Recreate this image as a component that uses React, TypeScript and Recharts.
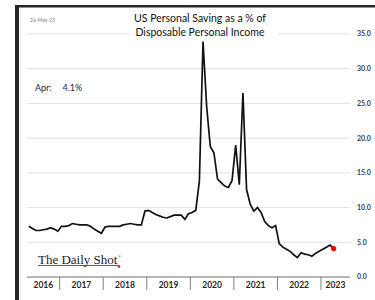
import React from "react";
import { LineChart, Line, XAxis, YAxis, CartesianGrid } from "recharts";

// months are counted from Jan 2016 = 0, first reading is Apr 2016
const firstMonth = 3;

const rate2016 = [7.3, 7.0, 6.7, 6.7, 6.8, 6.9, 7.1, 6.9, 6.6];
const rate2017 = [7.3, 7.3, 7.4, 7.7, 7.6, 7.5, 7.5, 7.5, 7.3, 6.9, 6.6, 6.3];
const rate2018 = [7.2, 7.3, 7.3, 7.3, 7.3, 7.5, 7.6, 7.7, 7.6, 7.5, 7.5, 9.5];
const rate2019 = [9.6, 9.3, 9.0, 8.8, 8.6, 8.5, 8.7, 8.9, 8.9, 8.9, 8.3, 9.1];
const rate2020 = [9.3, 9.6, 13.8, 33.9, 24.6, 18.8, 17.9, 14.1, 13.6, 13.1, 12.9, 13.9];
const rate2021 = [19.0, 13.3, 26.5, 12.6, 10.5, 9.5, 10.0, 9.3, 8.0, 7.4, 7.1, 7.4];
const rate2022 = [4.8, 4.3, 4.0, 3.7, 3.2, 2.8, 3.5, 3.3, 3.2, 3.0, 3.4, 3.7];
const rate2023 = [4.0, 4.3, 4.6, 4.1];

const savingRate = [
  ...rate2016,
  ...rate2017,
  ...rate2018,
  ...rate2019,
  ...rate2020,
  ...rate2021,
  ...rate2022,
  ...rate2023,
];

const years = ["2016", "2017", "2018", "2019", "2020", "2021", "2022", "2023"];
const yearCenters = [7, 17.5, 29.5, 41.5, 53.5, 65.5, 77.5, 87.5];
const yearBreaks = [11.5, 23.5, 35.5, 47.5, 59.5, 71.5, 83.5];
const yTicks = [0, 5, 10, 15, 20, 25, 30, 35];

const data = savingRate.map((v, i) => ({ m: firstMonth + i, rate: v }));
const lastIndex = data.length - 1;

const YearTick = (props: any) => {
  const { x, y, payload } = props;
  const i = yearCenters.indexOf(payload.value);
  if (i < 0) {
    return <line x1={x} x2={x} y1={y} y2={y + 13} stroke="#7f7f7f" strokeWidth={1} />;
  }
  return (
    <text
      x={x}
      y={y + 11}
      textAnchor="middle"
      fontFamily="Lato"
      fontWeight="bold"
      fontSize={8.5}
      fill="#262626"
    >
      {years[i]}
    </text>
  );
};

const LastDot = (props: any) => {
  const { cx, cy, index } = props;
  if (index !== lastIndex) return <g key={index} />;
  return <circle key={index} cx={cx} cy={cy} r={2.6} fill="#ff0000" />;
};

export default function App() {
  return (
    <div style={{ position: "absolute", left: 0, top: 0, width: 375, height: 300, background: "#fff" }}>
      <LineChart
        width={375}
        height={300}
        data={data}
        margin={{ top: 34, right: 0, bottom: 0, left: 27 }}
      >
        <CartesianGrid vertical={false} stroke="#e0e0e0" />
        <XAxis
          dataKey="m"
          type="number"
          domain={[2.5, 91.5]}
          ticks={[...yearCenters, ...yearBreaks].sort((a, b) => a - b)}
          interval={0}
          height={23}
          tickSize={0}
          tickMargin={0}
          tickLine={false}
          axisLine={{ stroke: "#7f7f7f" }}
          tick={<YearTick />}
        />
        <YAxis
          orientation="right"
          domain={[0, 35]}
          ticks={yTicks}
          width={25}
          tickLine={false}
          axisLine={false}
          tickMargin={1}
          tickFormatter={(v: number) => v.toFixed(1)}
          tick={{ fontSize: 7, fontWeight: "bold", fill: "#404040", fontFamily: "Lato" }}
        />
        <Line
          dataKey="rate"
          stroke="#111"
          strokeWidth={1.7}
          dot={<LastDot />}
          activeDot={false}
          isAnimationActive={false}
        />
      </LineChart>
      <svg
        width={375}
        height={300}
        style={{ position: "absolute", left: 0, top: 0, pointerEvents: "none" }}
      >
        <rect x={15} y={5} width={360} height={2.5} fill="#262626" />
        <rect x={15} y={5} width={4} height={295} fill="#262626" />
        <line x1={20.5} x2={20.5} y1={8} y2={300} stroke="#e8e8e8" />
        <text x={30} y={22} fontFamily="Lato" fontSize={5} fill="#808080">
          26-May-23
        </text>
        <rect x={131} y={27} width={147} height={12} fill="#fff" />
        <text x={200} y={21.5} textAnchor="middle" fontFamily="Lato" fontSize={10.5} fill="#111">
          US Personal Saving as a % of
        </text>
        <text x={200} y={36} textAnchor="middle" fontFamily="Lato" fontSize={10.5} fill="#111">
          Disposable Personal Income
        </text>
        <text x={35} y={91} fontFamily="Lato" fontSize={9} fill="#262626">
          Apr:
        </text>
        <text x={62.5} y={91} fontFamily="Lato" fontSize={9} fill="#262626">
          4.1%
        </text>
        <text x={38} y={264} fontFamily="Liberation Serif" fontSize={13} fill="#222">
          The Daily Shot
        </text>
        <line x1={38} x2={118} y1={265.5} y2={265.5} stroke="#333" strokeWidth={0.8} />
        <text x={118} y={258} fontFamily="Liberation Serif" fontSize={4} fill="#333">
          ®
        </text>
        <circle cx={119} cy={266.5} r={1.3} fill="#ff0000" />
      </svg>
    </div>
  );
}
